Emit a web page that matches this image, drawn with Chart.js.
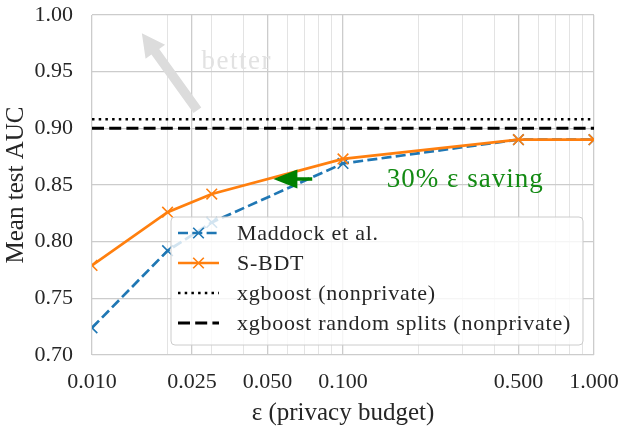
<!DOCTYPE html>
<html><head><meta charset="utf-8">
<script src="https://cdn.jsdelivr.net/npm/chart.js@4/dist/chart.umd.min.js"></script>
<style>html,body{margin:0;padding:0;background:#fff;}canvas{display:block;}</style>
</head><body>
<canvas id="c" width="620" height="426"></canvas>
<script>
// ---- data ----
const epsilons = [0.01, 0.02, 0.03, 0.1, 0.5, 1.0];
const maddockAUC = [0.724, 0.792, 0.817, 0.869, 0.890, 0.890];
const sbdtAUC = [0.779, 0.826, 0.842, 0.873, 0.890, 0.890];
const xgboostAUC = [0.908, 0.908];
const xgboostRandomAUC = [0.900, 0.900];
const baselineEps = [0.01, 1.0];
const seriesNames = ['Maddock et al.', 'S-BDT', 'xgboost (nonprivate)', 'xgboost random splits (nonprivate)'];
const xTickValues = [0.01, 0.025, 0.05, 0.1, 0.5, 1.0];
const xTickLabels = ['0.010', '0.025', '0.050', '0.100', '0.500', '1.000'];
const xMinorGrid = [0.02, 0.03, 0.04, 0.06, 0.07, 0.08, 0.09, 0.2, 0.3, 0.4, 0.6, 0.7, 0.8, 0.9];
const yTickValues = [0.70, 0.75, 0.80, 0.85, 0.90, 0.95, 1.00];
const yTickLabels = ['0.70', '0.75', '0.80', '0.85', '0.90', '0.95', '1.00'];
const xAxisTitle = 'ε (privacy budget)';
const yAxisTitle = 'Mean test AUC';
const betterText = 'better';
const savingText = '30% ε saving';
// annotation anchors in data coordinates
const betterArrowTail = [0.0263, 0.916];
const betterArrowHead = [0.0158, 0.984];
const betterTextPos = [0.0377, 0.959];
const savingArrowTail = [0.0754, 0.8553];
const savingArrowHead = [0.0528, 0.8553];
const savingTextPos = [0.307, 0.8544];

const FONT = "'Liberation Serif', 'DejaVu Serif', serif";
const TXT = '#262626';
const BLUE = '#1f77b4', ORANGE = '#ff7f0e', GREEN = '#138a13';

const pts = (xs, ys) => xs.map((x, i) => ({x, y: ys[i]}));

const styles = [
  {color: BLUE, width: 2.7, dash: [10, 4.3], marker: true},
  {color: ORANGE, width: 2.7, dash: [], marker: true},
  {color: '#000', width: 2.5, dash: [2.5, 4.2], marker: false},
  {color: '#000', width: 3.0, dash: [12, 5.2], marker: false}
];

function arrowPoly(ctx, T, H, shaftHW, headHW, headLen) {
  const dx = H[0] - T[0], dy = H[1] - T[1];
  const L = Math.hypot(dx, dy);
  const ux = dx / L, uy = dy / L, nx = -uy, ny = ux;
  const B = [H[0] - ux * headLen, H[1] - uy * headLen];
  ctx.beginPath();
  ctx.moveTo(T[0] + nx * shaftHW, T[1] + ny * shaftHW);
  ctx.lineTo(B[0] + nx * shaftHW, B[1] + ny * shaftHW);
  ctx.lineTo(B[0] + nx * headHW, B[1] + ny * headHW);
  ctx.lineTo(H[0], H[1]);
  ctx.lineTo(B[0] - nx * headHW, B[1] - ny * headHW);
  ctx.lineTo(B[0] - nx * shaftHW, B[1] - ny * shaftHW);
  ctx.lineTo(T[0] - nx * shaftHW, T[1] - ny * shaftHW);
  ctx.closePath();
  ctx.fill();
}

const annotations = {
  id: 'annotations',
  afterDatasetsDraw(chart) {
    const {ctx, scales: {x, y}} = chart;
    const P = p => [x.getPixelForValue(p[0]), y.getPixelForValue(p[1])];
    ctx.save();
    ctx.fillStyle = '#dcdcdc';
    arrowPoly(ctx, P(betterArrowTail), P(betterArrowHead), 4.8, 12, 23);
    ctx.font = '27px ' + FONT;
    ctx.letterSpacing = '1.5px';
    ctx.fillStyle = '#e2e2e2';
    ctx.textAlign = 'center';
    ctx.textBaseline = 'middle';
    const bt = P(betterTextPos);
    ctx.fillText(betterText, bt[0], bt[1]);
    ctx.fillStyle = '#008000';
    arrowPoly(ctx, P(savingArrowTail), P(savingArrowHead), 1.7, 9.5, 24);
    ctx.fillStyle = GREEN;
    ctx.letterSpacing = '1px';
    const st = P(savingTextPos);
    ctx.fillText(savingText, st[0], st[1]);
    ctx.restore();
  }
};

const boxLegend = {
  id: 'boxLegend',
  afterDraw(chart) {
    const {ctx} = chart;
    const bx = 171, by = 217, bw = 412, bh = 128;
    ctx.save();
    ctx.beginPath();
    ctx.roundRect(bx, by, bw, bh, 4);
    ctx.fillStyle = 'rgba(255,255,255,0.8)';
    ctx.fill();
    ctx.strokeStyle = '#cccccc';
    ctx.lineWidth = 1;
    ctx.stroke();
    ctx.font = '22px ' + FONT;
    ctx.letterSpacing = '0.75px';
    ctx.textBaseline = 'middle';
    ctx.textAlign = 'left';
    seriesNames.forEach((name, i) => {
      const s = styles[i];
      const ry = 233 + i * 30;
      ctx.strokeStyle = s.color;
      ctx.lineWidth = s.width;
      ctx.setLineDash(s.dash);
      ctx.beginPath();
      ctx.moveTo(178, ry); ctx.lineTo(219, ry);
      ctx.stroke();
      ctx.setLineDash([]);
      if (s.marker) {
        const r = 5.3;
        ctx.lineWidth = 1.6;
        ctx.beginPath();
        ctx.moveTo(198.5 - r, ry - r); ctx.lineTo(198.5 + r, ry + r);
        ctx.moveTo(198.5 + r, ry - r); ctx.lineTo(198.5 - r, ry + r);
        ctx.stroke();
      }
      ctx.fillStyle = TXT;
      ctx.fillText(name, 237, ry + 1);
    });
    ctx.restore();
  }
};

const mk = (label, data, s, order) => ({
  label, data, order,
  showLine: true,
  borderColor: s.color,
  backgroundColor: s.color,
  borderWidth: s.width,
  borderDash: s.dash,
  pointStyle: 'crossRot',
  pointRadius: s.marker ? 7.5 : 0,
  pointBorderWidth: 1.6,
  pointBorderColor: s.color,
  pointHoverRadius: s.marker ? 7.5 : 0,
  tension: 0,
  clip: 0
});

new Chart(document.getElementById('c'), {
  type: 'scatter',
  data: {
    datasets: [
      mk(seriesNames[0], pts(epsilons, maddockAUC), styles[0], 3),
      mk(seriesNames[1], pts(epsilons, sbdtAUC), styles[1], 0),
      mk(seriesNames[2], pts(baselineEps, xgboostAUC), styles[2], 2),
      mk(seriesNames[3], pts(baselineEps, xgboostRandomAUC), styles[3], 1)
    ]
  },
  options: {
    responsive: false,
    animation: false,
    events: [],
    layout: {autoPadding: false, padding: {top: 15, right: 26, left: 0, bottom: 0}},
    plugins: {legend: {display: false}, tooltip: {enabled: false}, title: {display: false}},
    scales: {
      x: {
        type: 'logarithmic',
        min: 0.01, max: 1.0,
        afterBuildTicks: s => {
          s.ticks = [...xTickValues, ...xMinorGrid].sort((a, b) => a - b).map(v => ({value: v}));
        },
        afterFit: s => { s.height = 71; s.paddingLeft = 0; s.paddingRight = 0; s.paddingTop = 0; s.paddingBottom = 0; },
        ticks: {
          autoSkip: false, maxRotation: 0, padding: 14, color: TXT,
          font: {family: FONT, size: 22},
          callback: v => { const i = xTickValues.findIndex(t => Math.abs(t - v) < 1e-9); return i >= 0 ? xTickLabels[i] : ''; }
        },
        grid: {
          drawTicks: false,
          color: c => (c.tick && xTickValues.some(t => Math.abs(t - c.tick.value) < 1e-9)) ? '#cccccc' : '#e3e3e3',
          lineWidth: c => (c.tick && xTickValues.some(t => Math.abs(t - c.tick.value) < 1e-9)) ? 1.3 : 1
        },
        border: {display: false},
        title: {display: true, text: xAxisTitle, color: TXT, font: {family: FONT, size: 25, lineHeight: 1}, padding: {top: 0, bottom: 0}}
      },
      y: {
        type: 'linear',
        min: 0.70, max: 1.00,
        afterBuildTicks: s => { s.ticks = yTickValues.map(v => ({value: v})); },
        afterFit: s => { s.width = 92; s.paddingLeft = 0; s.paddingRight = 0; s.paddingTop = 0; s.paddingBottom = 0; },
        ticks: {
          padding: 19, color: TXT,
          font: {family: FONT, size: 22},
          callback: v => { const i = yTickValues.findIndex(t => Math.abs(t - v) < 1e-9); return i >= 0 ? yTickLabels[i] : ''; }
        },
        grid: {drawTicks: false, color: '#cccccc', lineWidth: 1.3},
        border: {display: false},
        title: {display: true, text: yAxisTitle, color: TXT, font: {family: FONT, size: 25, lineHeight: 1}, padding: {top: 4, bottom: 0}}
      }
    }
  },
  plugins: [annotations, boxLegend]
});
</script>
</body></html>
